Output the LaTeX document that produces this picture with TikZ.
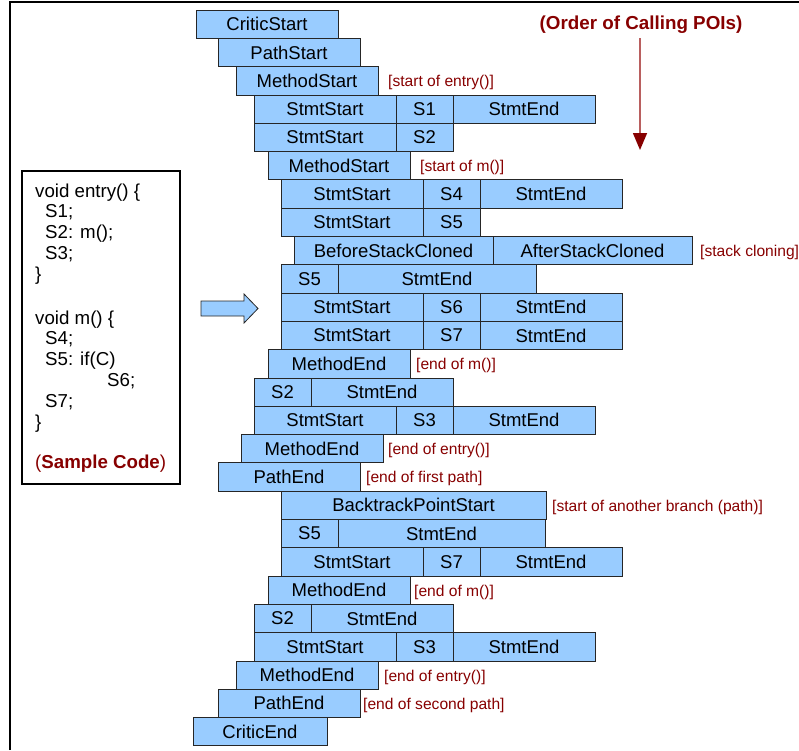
\documentclass[tikz,border=0pt]{standalone}
\usepackage{fontspec}
\setmainfont{Liberation Sans}
\usepackage{tikz}
\usetikzlibrary{positioning,arrows.meta}

\definecolor{poiblue}{RGB}{153,204,255}
\definecolor{poired}{RGB}{135,0,0}
\definecolor{poiredlight}{RGB}{185,95,95}

\begin{document}
\begin{tikzpicture}[x=1pt,y=-1pt,
    poi/.style={draw=black!85, fill=poiblue, line width=0.8pt, inner sep=0pt, outer sep=0pt,
        minimum height=28.3pt, anchor=north west, font=\fontsize{18.5}{20}\selectfont},
    poiwide/.style={minimum width=142pt},
    poinarrow/.style={minimum width=57pt},
    poinote/.style={text=poired, inner sep=0pt, yshift=-2pt, font=\fontsize{15.6}{18}\selectfont}]
    \useasboundingbox (0,0) rectangle (799,750);
    \draw[line width=2pt] (10,750) -- (10,2) -- (799,2);

    % sample code
    \node[draw, line width=2pt, inner sep=0pt, outer sep=0pt, minimum width=158pt, minimum height=313pt, anchor=north west] (codebox) at (22,171) {};
    \node[align=left, anchor=north west, inner sep=0pt, font=\fontsize{18.7}{20.9}\selectfont] (codetext) at (35,183.3) {void entry() \{\\
        \hspace*{10pt}S1;\\
        \hspace*{10pt}S2: m();\\
        \hspace*{10pt}S3;\\
        \}\\[22.5pt]
        void m() \{\\
        \hspace*{10pt}S4;\\
        \hspace*{10pt}S5: if(C)\\
        \hspace*{72pt}S6;\\
        \hspace*{10pt}S7;\\
        \}};
    \node[anchor=base west, inner sep=0pt, text=poired, font=\fontsize{18.7}{20.7}\selectfont] (samplecode) at (35,468) {(\textbf{Sample Code})};
    \draw[fill=poiblue, draw=black!85, line width=0.8pt] (201,301) -- (244,301) -- (244,294) -- (258,308.5) -- (244,323) -- (244,316) -- (201,316) -- cycle;

    % order of calling
    \node[text=poired, inner sep=0pt, font=\bfseries\fontsize{18.8}{22}\selectfont] (order) at (641,25) {(Order of Calling POIs)};
    \coordinate (ordtop) at (640,38);
    \coordinate (ordbot) at (640,150);
    \draw[poiredlight, line width=1.5pt, -{Triangle[width=14pt,length=17pt,color=poired,fill=poired]}] (ordtop) -- (ordbot);

    % first path
    \node[poi, poiwide] (criticstart) at (196,10) {CriticStart};
    \node[poi, poiwide] (pathstart) at (218,38.3) {PathStart};
    \node[poi, poiwide] (mstarta) at (236,66.6) {MethodStart};
    \node[poinote, right=10pt of mstarta] (mstartanote) {[start of entry()]};
    \node[poi, poiwide] (stonea) at (254,94.9) {StmtStart};
    \node[poi, poinarrow, right=0pt of stonea] (sone) {S1};
    \node[poi, poiwide, right=0pt of sone] (seonea) {StmtEnd};
    \node[poi, poiwide] (sttwoa) at (254,123.2) {StmtStart};
    \node[poi, poinarrow, right=0pt of sttwoa] (stwoa) {S2};
    \node[poi, poiwide] (mstartb) at (268,151.5) {MethodStart};
    \node[poinote, right=10pt of mstartb] (mstartbnote) {[start of m()]};
    \node[poi, poiwide] (stfour) at (281,179.8) {StmtStart};
    \node[poi, poinarrow, right=0pt of stfour] (sfour) {S4};
    \node[poi, poiwide, right=0pt of sfour] (sefour) {StmtEnd};
    \node[poi, poiwide] (stfive) at (281,208.1) {StmtStart};
    \node[poi, poinarrow, right=0pt of stfive] (sfivea) {S5};
    \node[poi, minimum width=199pt] (beforeclone) at (294,236.4) {BeforeStackCloned};
    \node[poi, minimum width=199pt, right=0pt of beforeclone] (afterclone) {AfterStackCloned};
    \node[poinote, right=8pt of afterclone] (clonenote) {[stack cloning]};
    \node[poi, poinarrow] (sfiveb) at (281,264.7) {S5};
    \node[poi, minimum width=198pt, right=0pt of sfiveb] (sefivea) {StmtEnd};
    \node[poi, poiwide] (stsix) at (281,293) {StmtStart};
    \node[poi, poinarrow, right=0pt of stsix] (ssix) {S6};
    \node[poi, poiwide, right=0pt of ssix] (sesix) {StmtEnd};
    \node[poi, poiwide] (stsevena) at (281,321.3) {StmtStart};
    \node[poi, poinarrow, right=0pt of stsevena] (ssevena) {S7};
    \node[poi, poiwide, right=0pt of ssevena] (sesevena) {StmtEnd};
    \node[poi, poiwide] (mendb) at (268,349.6) {MethodEnd};
    \node[poinote, right=6pt of mendb] (mendbnote) {[end of m()]};
    \node[poi, poinarrow] (stwob) at (254,377.9) {S2};
    \node[poi, poiwide, right=0pt of stwob] (setwoa) {StmtEnd};
    \node[poi, poiwide] (stthreea) at (254,406.2) {StmtStart};
    \node[poi, poinarrow, right=0pt of stthreea] (sthreea) {S3};
    \node[poi, poiwide, right=0pt of sthreea] (sethreea) {StmtEnd};
    \node[poi, poiwide] (menda) at (241,434.5) {MethodEnd};
    \node[poinote, right=5pt of menda] (mendanote) {[end of entry()]};
    \node[poi, poiwide] (pathenda) at (218,462.8) {PathEnd};
    \node[poinote, right=6pt of pathenda] (pathendanote) {[end of first path]};

    % second path
    \node[poi, minimum width=265pt] (backtrack) at (281,491.1) {BacktrackPointStart};
    \node[poinote, right=6pt of backtrack] (backtracknote) {[start of another branch (path)]};
    \node[poi, poinarrow] (sfivec) at (281,519.4) {S5};
    \node[poi, minimum width=207pt, right=0pt of sfivec] (sefiveb) {StmtEnd};
    \node[poi, poiwide] (stsevenb) at (281,547.7) {StmtStart};
    \node[poi, poinarrow, right=0pt of stsevenb] (ssevenb) {S7};
    \node[poi, poiwide, right=0pt of ssevenb] (sesevenb) {StmtEnd};
    \node[poi, poiwide] (mendc) at (268,576) {MethodEnd};
    \node[poinote, right=4pt of mendc] (mendcnote) {[end of m()]};
    \node[poi, poinarrow] (stwoc) at (254,604.3) {S2};
    \node[poi, poiwide, right=0pt of stwoc] (setwob) {StmtEnd};
    \node[poi, poiwide] (stthreeb) at (254,632.6) {StmtStart};
    \node[poi, poinarrow, right=0pt of stthreeb] (sthreeb) {S3};
    \node[poi, poiwide, right=0pt of sthreeb] (sethreeb) {StmtEnd};
    \node[poi, poiwide] (mendd) at (236,660.9) {MethodEnd};
    \node[poinote, right=6pt of mendd] (menddnote) {[end of entry()]};
    \node[poi, poiwide] (pathendb) at (218,689.2) {PathEnd};
    \node[poinote, right=3pt of pathendb] (pathendbnote) {[end of second path]};
    \node[poi, minimum width=134pt] (criticend) at (193,717.5) {CriticEnd};
\end{tikzpicture}
\end{document}
